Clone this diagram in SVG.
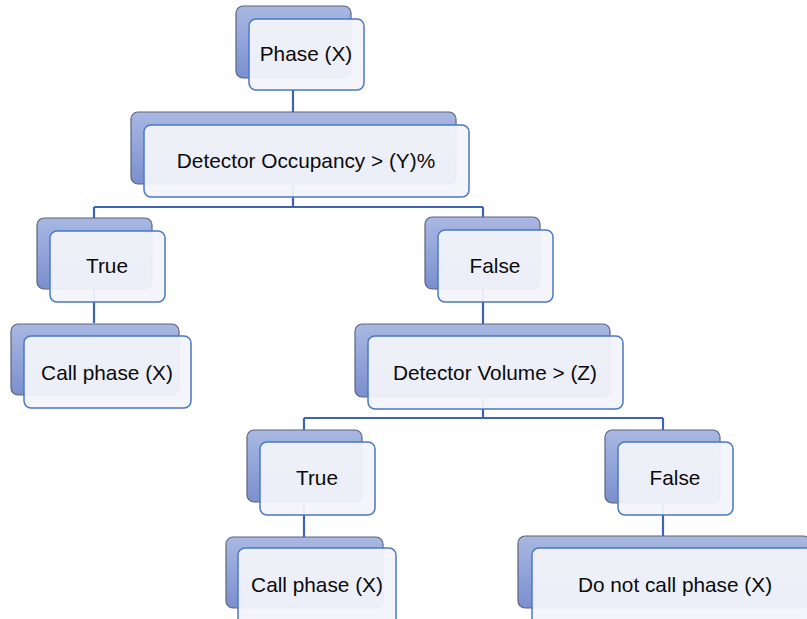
<svg xmlns="http://www.w3.org/2000/svg" width="807" height="619" viewBox="0 0 807 619">
<defs>
<linearGradient id="bg" x1="0" y1="0" x2="0" y2="1">
<stop offset="0" stop-color="#a9b8e2"/>
<stop offset="1" stop-color="#7b8fcf"/>
</linearGradient>
<style>
.back{fill:url(#bg);stroke:#5e6478;stroke-width:1.2}
.front{fill:#f3f4fa;fill-opacity:0.94;stroke:#4a78c8;stroke-width:1.5}
.conn{fill:none;stroke:#3e63b0;stroke-width:2.2}
text{font-family:"Liberation Sans",Arial,sans-serif;font-size:20.8px;fill:#0a0a0a;text-anchor:middle}
</style>
</defs>
<rect width="807" height="619" fill="#ffffff"/>
<g id="connectors">
<path class="conn" d="M293,90 V207 M94,207 H483 M94,207 V323 M483,207 V418 M304,418 H663 M304,418 V537 M663,418 V537"/>
</g>
<g id="n1">
<rect class="back" x="236" y="6" width="115" height="72" rx="7"/>
<rect class="front" x="249" y="19" width="115" height="71" rx="7"/>
<text x="306" y="61">Phase (X)</text>
</g>
<g id="n2">
<rect class="back" x="131" y="112" width="325" height="72" rx="7"/>
<rect class="front" x="144" y="125" width="325" height="72" rx="7"/>
<text x="306" y="168">Detector Occupancy &gt; (Y)%</text>
</g>
<g id="n3">
<rect class="back" x="37" y="218" width="115" height="71" rx="7"/>
<rect class="front" x="50" y="231" width="115" height="71" rx="7"/>
<text x="107" y="273">True</text>
</g>
<g id="n4">
<rect class="back" x="11" y="324" width="168" height="71" rx="7"/>
<rect class="front" x="24" y="336" width="167" height="72" rx="7"/>
<text x="107" y="380">Call phase (X)</text>
</g>
<g id="n5">
<rect class="back" x="425" y="217" width="115" height="72" rx="7"/>
<rect class="front" x="438" y="230" width="115" height="72" rx="7"/>
<text x="495" y="273">False</text>
</g>
<g id="n6">
<rect class="back" x="355" y="324" width="255" height="73" rx="7"/>
<rect class="front" x="368" y="336" width="255" height="73" rx="7"/>
<text x="495" y="380">Detector Volume &gt; (Z)</text>
</g>
<g id="n7">
<rect class="back" x="247" y="430" width="115" height="72" rx="7"/>
<rect class="front" x="260" y="442" width="115" height="73" rx="7"/>
<text x="317" y="485">True</text>
</g>
<g id="n8">
<rect class="back" x="226" y="537" width="157" height="71" rx="7"/>
<rect class="front" x="238" y="548" width="158" height="80" rx="7"/>
<text x="317" y="592">Call phase (X)</text>
</g>
<g id="n9">
<rect class="back" x="605" y="430" width="115" height="73" rx="7"/>
<rect class="front" x="618" y="442" width="115" height="73" rx="7"/>
<text x="675" y="485">False</text>
</g>
<g id="n10">
<rect class="back" x="518" y="536" width="292" height="72" rx="7"/>
<rect class="front" x="532" y="548" width="292" height="80" rx="7"/>
<text x="675" y="592">Do not call phase (X)</text>
</g>
</svg>
